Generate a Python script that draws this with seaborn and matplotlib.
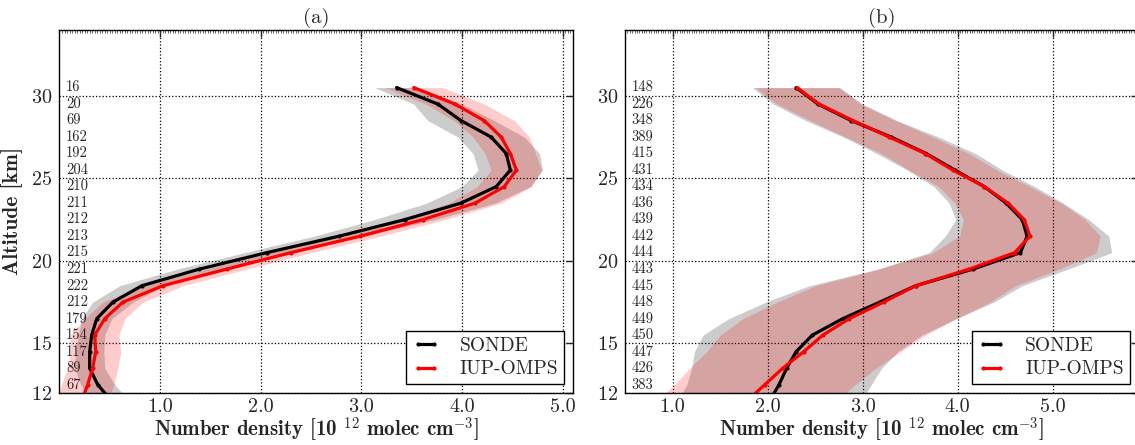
import matplotlib
matplotlib.use('Agg')
import matplotlib.pyplot as plt
import seaborn as sns
from matplotlib.ticker import MultipleLocator, FormatStrFormatter

# altitudes of the profile levels [km]
alt = [11.5, 12.5, 13.5, 14.5, 15.5, 16.5, 17.5, 18.5, 19.5, 20.5,
       21.5, 22.5, 23.5, 24.5, 25.5, 26.5, 27.5, 28.5, 29.5, 30.5]

# number of collocations per level (12.5 .. 30.5 km)
counts_a = [67, 89, 117, 154, 179, 212, 222, 221, 215, 213, 212, 211, 210, 204, 192, 162, 69, 20, 16]
counts_b = [383, 426, 447, 450, 449, 448, 445, 443, 444, 442, 439, 436, 434, 431, 415, 389, 348, 226, 148]

# panel (a): mean profiles and standard deviations [10^12 molec cm-3]
sonde_a = [0.52, 0.38, 0.30, 0.30, 0.32, 0.37, 0.53, 0.82, 1.39, 2.06,
           2.78, 3.43, 3.99, 4.34, 4.48, 4.44, 4.29, 3.99, 3.76, 3.35]
sonde_a_sd = [0.18, 0.17, 0.15, 0.14, 0.13, 0.15, 0.20, 0.22, 0.22, 0.22,
              0.25, 0.30, 0.34, 0.34, 0.32, 0.33, 0.33, 0.33, 0.24, 0.22]
omps_a = [0.22, 0.28, 0.33, 0.36, 0.35, 0.45, 0.63, 1.03, 1.66, 2.30,
          2.99, 3.61, 4.13, 4.42, 4.54, 4.48, 4.39, 4.22, 3.93, 3.52]
omps_a_sd = [0.26, 0.26, 0.25, 0.25, 0.24, 0.20, 0.20, 0.20, 0.20, 0.20,
             0.20, 0.22, 0.26, 0.27, 0.25, 0.25, 0.28, 0.30, 0.29, 0.29]

# panel (b)
sonde_b = [2.02, 2.12, 2.20, 2.30, 2.47, 2.79, 3.18, 3.56, 4.16, 4.66,
           4.73, 4.68, 4.51, 4.28, 3.97, 3.67, 3.30, 2.88, 2.53, 2.30]
sonde_b_sd = [0.97, 0.97, 1.00, 1.07, 1.15, 1.20, 1.20, 1.12, 1.00, 0.96,
              0.86, 0.70, 0.60, 0.53, 0.50, 0.52, 0.50, 0.48, 0.47, 0.46]
omps_b = [1.78, 1.97, 2.16, 2.38, 2.58, 2.86, 3.22, 3.56, 4.12, 4.60,
          4.76, 4.70, 4.53, 4.28, 3.95, 3.66, 3.28, 2.90, 2.54, 2.31]
omps_b_sd = [0.95, 0.95, 0.98, 1.02, 1.08, 1.12, 1.12, 1.05, 0.95, 0.86,
             0.74, 0.64, 0.56, 0.48, 0.46, 0.46, 0.46, 0.45, 0.44, 0.44]

yticks = [12, 15, 20, 25, 30]
xticks = [1.0, 2.0, 3.0, 4.0, 5.0]

sns.set_style('white')
plt.rcParams['font.family'] = 'cmr10'
plt.rcParams['mathtext.fontset'] = 'cm'
plt.rcParams['axes.formatter.use_mathtext'] = True
plt.rcParams['axes.unicode_minus'] = False


def panel(ax, sonde, sonde_sd, omps, omps_sd, counts, xlim, title):
    lo = [m - s for m, s in zip(sonde, sonde_sd)]
    hi = [m + s for m, s in zip(sonde, sonde_sd)]
    ax.fill_betweenx(alt, lo, hi, color='k', alpha=0.2, lw=0)
    lo = [m - s for m, s in zip(omps, omps_sd)]
    hi = [m + s for m, s in zip(omps, omps_sd)]
    ax.fill_betweenx(alt, lo, hi, color='red', alpha=0.2, lw=0)

    sns.lineplot(x=sonde, y=alt, sort=False, estimator=None, color='k', lw=2.3,
                 marker='o', ms=3, mew=0, label='SONDE', ax=ax)
    sns.lineplot(x=omps, y=alt, sort=False, estimator=None, color='red', lw=2.3,
                 marker='o', ms=3, mew=0, label='IUP-OMPS', ax=ax)

    for a, c in zip(alt[1:], counts):
        ax.text(0.013, a, str(c), transform=ax.get_yaxis_transform(),
                fontsize=10.5, va='center', ha='left')

    ax.set_xlim(*xlim)
    ax.set_ylim(12, 34)
    ax.set_xticks(xticks)
    ax.set_yticks(yticks)
    ax.xaxis.set_major_formatter(FormatStrFormatter('%.1f'))
    ax.xaxis.set_minor_locator(MultipleLocator(0.025))
    ax.tick_params(which='both', direction='in', top=True, right=True, labelsize=14.5)
    ax.tick_params(axis='x', pad=4)
    ax.tick_params(axis='y', pad=5)
    ax.tick_params(which='major', length=5, width=1)
    ax.tick_params(which='minor', length=2.5, width=0.5)
    ax.grid(True, which='major', ls=':', color='k', lw=0.9)
    for sp in ax.spines.values():
        sp.set_color('k')
        sp.set_linewidth(1.0)

    ax.set_title(title, fontsize=15, pad=5)
    ax.set_xlabel(r'Number density [10 $^{12}$ molec cm$^{-3}$]',
                  fontsize=15, fontfamily='cmb10', labelpad=0)
    ax.set_ylabel('')
    leg = ax.legend(loc='lower right', fontsize=14, numpoints=2, fancybox=False,
                    handlelength=1.45, handletextpad=1.0, labelspacing=0.3,
                    borderpad=0.3, borderaxespad=0.45, framealpha=1)
    leg.get_frame().set_edgecolor('k')
    leg.get_frame().set_linewidth(1.0)


fig, (ax1, ax2) = plt.subplots(1, 2, figsize=(11.35, 4.45), dpi=100)
ax1.set_position([0.0524, 0.117, 0.4522, 0.816])
ax2.set_position([0.5507, 0.117, 0.4522, 0.816])

panel(ax1, sonde_a, sonde_a_sd, omps_a, omps_a_sd, counts_a, (0.0, 5.1), '(a)')
panel(ax2, sonde_b, sonde_b_sd, omps_b, omps_b_sd, counts_b, (0.5, 5.9), '(b)')
ax1.set_ylabel('Altitude [km]', fontsize=15.5, fontfamily='cmb10', labelpad=6)

fig.savefig('out.png', dpi=100)
